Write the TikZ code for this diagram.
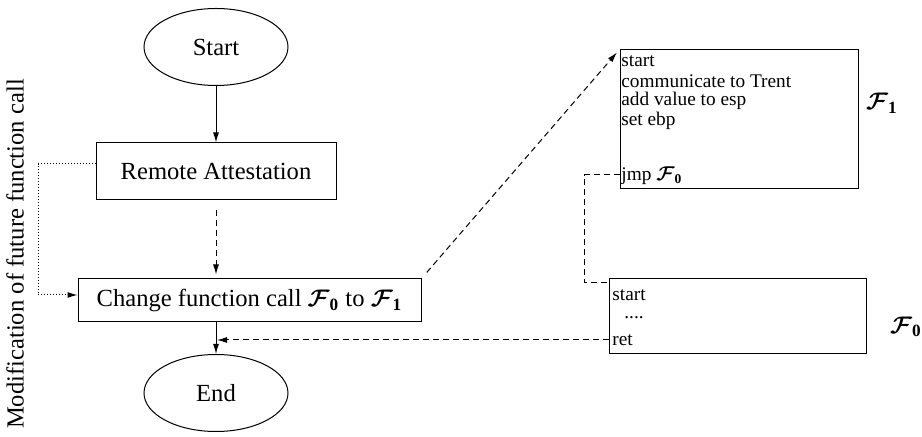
\documentclass[tikz,border=0pt]{standalone}
\usepackage{amsmath,bm}
\usepackage{fontspec}
\setmainfont{Liberation Serif}
\usetikzlibrary{shapes.geometric,arrows.meta}
\newcommand{\FFzero}{\boldsymbol{\mathcal{F}}_{\mathbf{0}}}
\newcommand{\FFone}{\boldsymbol{\mathcal{F}}_{\mathbf{1}}}
\tikzset{
  big/.style={font=\fontsize{12.3}{14}\selectfont},
  small/.style={font=\fontsize{9.65}{11.6}\selectfont},
  oval/.style={ellipse,draw,line width=0.5pt,inner sep=0pt,minimum width=72pt,minimum height=38.5pt,big},
  box/.style={rectangle,draw,line width=0.5pt,inner sep=0pt},
  codeline/.style={anchor=west,inner sep=0pt,small},
  tip/.style={-{Latex[length=5pt,width=3pt]}},
  solidarrow/.style={tip,line width=0.5pt},
  dasharrow/.style={line width=0.5pt,dash pattern=on 3pt off 2pt},
  dotline/.style={line width=0.5pt,dash pattern=on 0.5pt off 1pt},
}
\begin{document}
\begin{tikzpicture}[x=0.5pt,y=-0.5pt]
\useasboundingbox (0,0) rectangle (922,437);
\node[oval] (start) at (216,47) {Start};
\node[oval] (end) at (216,393) {End};
\node[box,big,minimum width=120pt,minimum height=28.5pt] (ra) at (216,171.5) {Remote Attestation};
\node[box,big,minimum width=171.5pt,minimum height=21.5pt] (chg) at (249.5,300.5) {Change function call $\FFzero$ to $\FFone$};
\node[box,minimum width=119pt,minimum height=69.5pt] (f1) at (739,119.5) {};
\node[box,minimum width=128.5pt,minimum height=37.5pt] (f0) at (737.5,316.5) {};
\node[codeline] (a1) at (621,61) {start};
\node[codeline] (a2) at (621,81) {communicate to Trent};
\node[codeline] (a3) at (621,101) {add value to esp};
\node[codeline] (a4) at (621,121) {set ebp};
\node[codeline] (jmp) at (621,176) {jmp $\FFzero$};
\node[codeline] (b1) at (612,295) {start};
\node[codeline] (b2) at (624,318) {....};
\node[codeline] (ret) at (612,340) {ret};
\node[big] (l1) at (882,103) {$\FFone$};
\node[big] (l0) at (906,327) {$\FFzero$};
\node[big,rotate=90] (side) at (15,254) {Modification of future function call};
\coordinate (c1) at (38,164);
\coordinate (c2) at (38,295);
\coordinate (c3) at (584,175);
\coordinate (c4) at (584,283);
\coordinate (m) at (217,340);
\draw[solidarrow] (start) -- (ra);
\draw[dasharrow,tip,shorten <=5pt,shorten >=2pt] (ra.south) -- (ra.south |- chg.north);
\draw[solidarrow] (end.north |- chg.south) -- (end.north);
\draw[dotline] (ra.west |- c1) -- (c1) -- (c2);
\draw[dotline,tip] (c2) -- (chg.west |- c2);
\draw[dasharrow,tip,shorten <=4pt,shorten >=2pt] (chg.north east) -- (f1.north west);
\draw[dasharrow] (f1.west |- c3) -- (c3) -- (c4) -- (f0.west |- c4);
\draw[dasharrow,tip] (f0.west |- ret) -- (m);
\end{tikzpicture}
\end{document}
